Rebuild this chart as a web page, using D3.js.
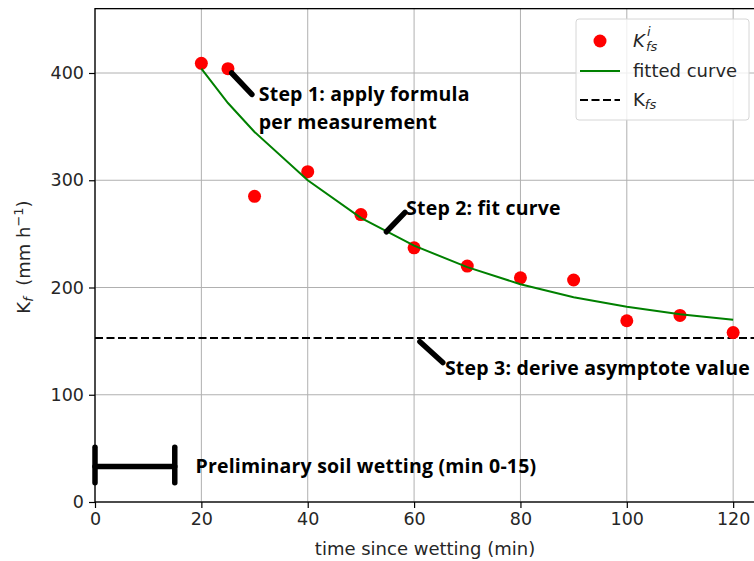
<!DOCTYPE html>
<html>
<head>
<meta charset="utf-8">
<script src="https://cdn.jsdelivr.net/npm/d3@7"></script>
<style>
  body { margin: 0; background: #fff; }
  svg { display: block; font-family: "DejaVu Sans", sans-serif; }
  .note { font-family: "Open Sans", sans-serif; font-weight: bold; font-size: 19.5px; letter-spacing: 0.2px; fill: #000; }
</style>
</head>
<body>
<div id="chart"></div>
<script>
// measured K_fs^i per time step
const times = [20, 25, 30, 40, 50, 60, 70, 80, 90, 100, 110, 120];
const kValues = [409, 404, 285, 308, 268, 237, 220, 209, 207, 169, 174, 158];

// fitted curve
const fitTimes = [20, 25, 30, 40, 50, 60, 70, 80, 90, 100, 110, 120];
const fitValues = [404, 372, 345, 300, 265, 239, 219, 203, 191, 182, 175, 170];

const asymptote = 153;

const xTicks = [0, 20, 40, 60, 80, 100, 120];
const yTicks = [0, 100, 200, 300, 400];

const W = 754, H = 561;
const margin = { top: 9, left: 95 };
const plotBottom = 502;

const xScale = d3.scaleLinear().domain([0, 125]).range([margin.left, margin.left + 125 * 5.318]);
const yScale = d3.scaleLinear().domain([0, 460]).range([plotBottom, plotBottom - 460 * 1.0725]);

const svg = d3.select("#chart").append("svg")
  .attr("width", W)
  .attr("height", H);

const [x0, x1] = xScale.range();
const [y0, y1] = yScale.range();

// grid
svg.append("g")
  .selectAll("line")
  .data(xTicks)
  .enter()
  .append("line")
  .attr("x1", (d) => xScale(d)).attr("x2", (d) => xScale(d))
  .attr("y1", y0).attr("y2", y1)
  .attr("stroke", "#b0b0b0").attr("stroke-width", 1);

svg.append("g")
  .selectAll("line")
  .data(yTicks)
  .enter()
  .append("line")
  .attr("x1", x0).attr("x2", x1)
  .attr("y1", (d) => yScale(d)).attr("y2", (d) => yScale(d))
  .attr("stroke", "#b0b0b0").attr("stroke-width", 1);

// asymptote
svg.append("line")
  .attr("x1", x0).attr("x2", x1)
  .attr("y1", yScale(asymptote)).attr("y2", yScale(asymptote))
  .attr("stroke", "#000").attr("stroke-width", 2)
  .attr("stroke-dasharray", "8,3.5");

// points
svg.append("g")
  .selectAll("circle")
  .data(times.map((t, i) => ({ t, k: kValues[i] })))
  .enter()
  .append("circle")
  .attr("cx", (d) => xScale(d.t))
  .attr("cy", (d) => yScale(d.k))
  .attr("r", 6.5)
  .attr("fill", "#ff0000");

// fitted curve
const line = d3.line().x((d) => xScale(d[0])).y((d) => yScale(d[1]));
svg.append("path")
  .datum(fitTimes.map((t, i) => [t, fitValues[i]]))
  .attr("d", line)
  .attr("fill", "none")
  .attr("stroke", "#008000")
  .attr("stroke-width", 2);

// annotation strokes
const strokes = [
  [[25.7, 400], [29.5, 380]],
  [[54.8, 252], [58.3, 270]],
  [[61.1, 149.5], [65.4, 130]],
  [[0, 33], [15, 33]],
  [[0, 51], [0, 18]],
  [[15, 51], [15, 18]],
];
svg.append("g")
  .selectAll("path")
  .data(strokes)
  .enter()
  .append("path")
  .attr("d", line)
  .attr("stroke", "#000")
  .attr("stroke-width", 5.5)
  .attr("stroke-linecap", "round")
  .attr("fill", "none");

// annotation texts
const notes = [
  { x: 30.8, y: 374, text: "Step 1: apply formula" },
  { x: 30.8, y: 348, text: "per measurement" },
  { x: 58.5, y: 267.5, text: "Step 2: fit curve" },
  { x: 65.8, y: 118.5, text: "Step 3: derive asymptote value" },
  { x: 18.9, y: 27, text: "Preliminary soil wetting (min 0-15)" },
];
svg.append("g")
  .selectAll("text")
  .data(notes)
  .enter()
  .append("text")
  .attr("class", "note")
  .attr("x", (d) => xScale(d.x))
  .attr("y", (d) => yScale(d.y))
  .text((d) => d.text);

// axes
svg.append("g")
  .attr("transform", "translate(0," + y0 + ")")
  .call(d3.axisBottom(xScale).tickValues(xTicks).tickSize(6).tickPadding(5))
  .call((g) => g.select(".domain").remove());

svg.append("g")
  .attr("transform", "translate(" + x0 + ",0)")
  .call(d3.axisLeft(yScale).tickValues(yTicks).tickSize(6).tickPadding(5))
  .call((g) => g.select(".domain").remove());

svg.selectAll(".tick text")
  .attr("font-family", "DejaVu Sans, sans-serif")
  .attr("font-size", 17.5)
  .attr("fill", "#262626");
svg.selectAll(".tick line").attr("stroke", "#000").attr("stroke-width", 1.2);

// spines
svg.append("rect")
  .attr("x", x0).attr("y", y1)
  .attr("width", x1 - x0).attr("height", y0 - y1)
  .attr("fill", "none").attr("stroke", "#000").attr("stroke-width", 1.3);

// axis labels
svg.append("text")
  .attr("x", 425)
  .attr("y", 555)
  .attr("text-anchor", "middle")
  .attr("font-size", 18)
  .attr("fill", "#262626")
  .text("time since wetting (min)");

const yLab = svg.append("text")
  .attr("transform", "translate(30,257) rotate(-90)")
  .attr("text-anchor", "middle")
  .attr("font-size", 18)
  .attr("fill", "#262626");
yLab.append("tspan").text("K");
yLab.append("tspan").attr("font-style", "italic").attr("font-size", 13).attr("dy", 3).text("f");
yLab.append("tspan").attr("dy", -3).text("\u00a0\u00a0(mm h");
yLab.append("tspan").attr("font-size", 13).attr("dy", -7).text("\u22121");
yLab.append("tspan").attr("dy", 7).text(")");

// legend
const lg = svg.append("g").attr("transform", "translate(576,19)");
lg.append("rect")
  .attr("width", 173).attr("height", 101)
  .attr("rx", 3)
  .attr("fill", "#fff").attr("fill-opacity", 0.8)
  .attr("stroke", "#d6d6d6").attr("stroke-width", 1);
lg.append("circle").attr("cx", 24).attr("cy", 22).attr("r", 6.5).attr("fill", "#ff0000");
lg.append("line").attr("x1", 4).attr("x2", 44).attr("y1", 52).attr("y2", 52)
  .attr("stroke", "#008000").attr("stroke-width", 2);
lg.append("line").attr("x1", 4).attr("x2", 44).attr("y1", 81).attr("y2", 81)
  .attr("stroke", "#000").attr("stroke-width", 2).attr("stroke-dasharray", "8,3.5");

const legText = lg.append("g").attr("font-size", 18).attr("fill", "#262626");
legText.append("text").attr("x", 57).attr("y", 28).attr("font-style", "italic").text("K");
legText.append("text").attr("x", 71).attr("y", 17).attr("font-style", "italic").attr("font-size", 13).text("i");
legText.append("text").attr("x", 70).attr("y", 32).attr("font-style", "italic").attr("font-size", 13).text("fs");
legText.append("text").attr("x", 57).attr("y", 58).text("fitted curve");
const kfs = legText.append("text").attr("x", 57).attr("y", 87);
kfs.append("tspan").text("K");
kfs.append("tspan").attr("font-style", "italic").attr("font-size", 13).attr("dy", 3).text("fs");
</script>
</body>
</html>
